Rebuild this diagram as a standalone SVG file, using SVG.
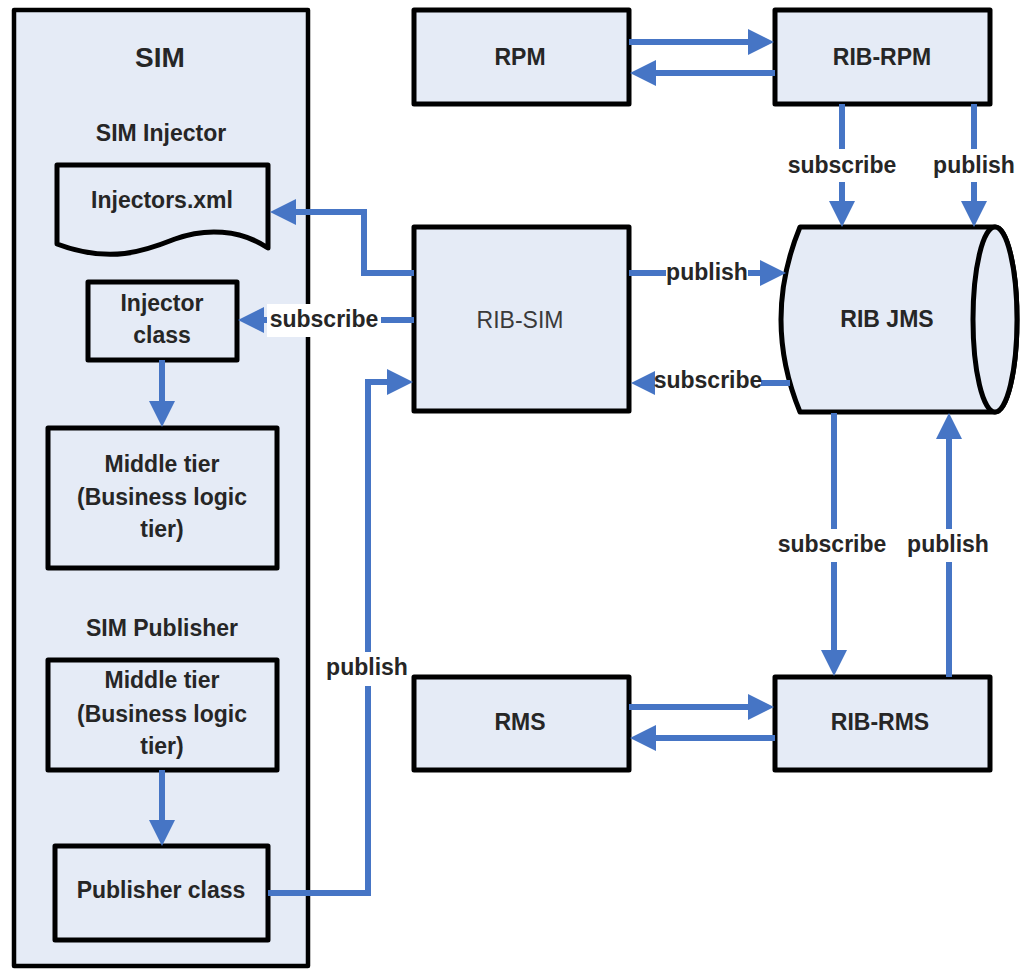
<svg xmlns="http://www.w3.org/2000/svg" width="1026" height="970" viewBox="0 0 1026 970">
<defs>
<marker id="ah" markerUnits="userSpaceOnUse" markerWidth="26" markerHeight="26" refX="18" refY="13" orient="auto">
<path d="M0,0 L26,13 L0,26 Z" fill="#4675C5"/>
</marker>
<style>
.box{fill:#E5EBF6;stroke:#000;stroke-width:5;stroke-linejoin:round}
.t{font-family:"Liberation Sans",Arial,sans-serif;font-size:23px;font-weight:bold;fill:#262626;text-anchor:middle}
.r{font-weight:normal;fill:#3a3a3a}
.c{fill:none;stroke:#4675C5;stroke-width:6;marker-end:url(#ah)}
.bg{fill:#fff}
</style>
</defs>
<rect width="1026" height="970" fill="#fff"/>

<g id="SIM">
<rect class="box" x="14" y="10" width="294" height="956" style="stroke-width:4.5"/>
<text class="t" x="160" y="67" style="font-size:28px">SIM</text>
<text class="t" x="161" y="141">SIM Injector</text>
<text class="t" x="162" y="636">SIM Publisher</text>
</g>
<g id="injectors-xml">
<path class="box" d="M57,165 H268 V248 C240,229 205,228 175,239 C145,251 110,264 57,244 Z"/>
<text class="t" x="162" y="208">Injectors.xml</text>
</g>
<g id="injector-class">
<rect class="box" x="88" y="282" width="149" height="78"/>
<text class="t" x="162" y="311">Injector</text>
<text class="t" x="162" y="343">class</text>
</g>
<g id="middle-tier-1">
<rect class="box" x="48" y="428" width="229" height="140"/>
<text class="t" x="162" y="472">Middle tier</text>
<text class="t" x="162" y="505">(Business logic</text>
<text class="t" x="162" y="537">tier)</text>
</g>
<g id="middle-tier-2">
<rect class="box" x="48" y="660" width="229" height="110"/>
<text class="t" x="162" y="688">Middle tier</text>
<text class="t" x="162" y="722">(Business logic</text>
<text class="t" x="162" y="754">tier)</text>
</g>
<g id="publisher-class">
<rect class="box" x="55" y="846" width="213" height="94"/>
<text class="t" x="161" y="898">Publisher class</text>
</g>
<g id="RPM">
<rect class="box" x="414" y="10" width="215" height="94"/>
<text class="t" x="520" y="65">RPM</text>
</g>
<g id="RIB-RPM">
<rect class="box" x="775" y="10" width="215" height="94"/>
<text class="t" x="882" y="65">RIB-RPM</text>
</g>
<g id="RIB-SIM">
<rect class="box" x="414" y="227" width="215" height="184"/>
<text class="t r" x="520" y="328">RIB-SIM</text>
</g>
<g id="RIB-JMS">
<path class="box" d="M800,227 H995 A22,92.5 0 0 1 995,412 H800 Q762,319.5 800,227 Z"/>
<ellipse class="box" cx="995" cy="319.5" rx="22" ry="92.5"/>
<text class="t" x="887" y="327">RIB JMS</text>
</g>
<g id="RMS">
<rect class="box" x="414" y="677" width="215" height="93"/>
<text class="t" x="520" y="730">RMS</text>
</g>
<g id="RIB-RMS">
<rect class="box" x="775" y="677" width="215" height="93"/>
<text class="t" x="880" y="730">RIB-RMS</text>
</g>

<g id="connectors">
<path class="c" d="M629,42 H766"/>
<path class="c" d="M775,73 H638"/>
<path class="c" d="M842,104 V219"/>
<path class="c" d="M974,104 V219"/>
<path class="c" d="M629,273 H778"/>
<path class="c" d="M790,383 H639"/>
<path class="c" d="M834,413 V668"/>
<path class="c" d="M949,677 V421"/>
<path class="c" d="M629,707 H766"/>
<path class="c" d="M775,738 H638"/>
<path class="c" d="M414,273 H364 V212 H278"/>
<path class="c" d="M414,320 H246"/>
<path class="c" d="M268,893 H368 V382 H405"/>
<path class="c" d="M162,360 V419"/>
<path class="c" d="M162,770 V838"/>
</g>

<g id="labels">
<rect class="bg" x="788" y="149" width="108" height="33"/>
<text class="t" x="842" y="173">subscribe</text>
<rect class="bg" x="933" y="149" width="82" height="33"/>
<text class="t" x="974" y="173">publish</text>
<rect class="bg" x="666" y="258" width="82" height="32"/>
<text class="t" x="707" y="280">publish</text>
<rect class="bg" x="655" y="366" width="106" height="32"/>
<text class="t" x="708" y="388">subscribe</text>
<rect class="bg" x="267" y="304" width="114" height="33"/>
<text class="t" x="324" y="327">subscribe</text>
<rect class="bg" x="326" y="652" width="82" height="34"/>
<text class="t" x="367" y="675">publish</text>
<rect class="bg" x="778" y="529" width="108" height="33"/>
<text class="t" x="832" y="552">subscribe</text>
<rect class="bg" x="907" y="529" width="82" height="33"/>
<text class="t" x="948" y="552">publish</text>
</g>
</svg>
